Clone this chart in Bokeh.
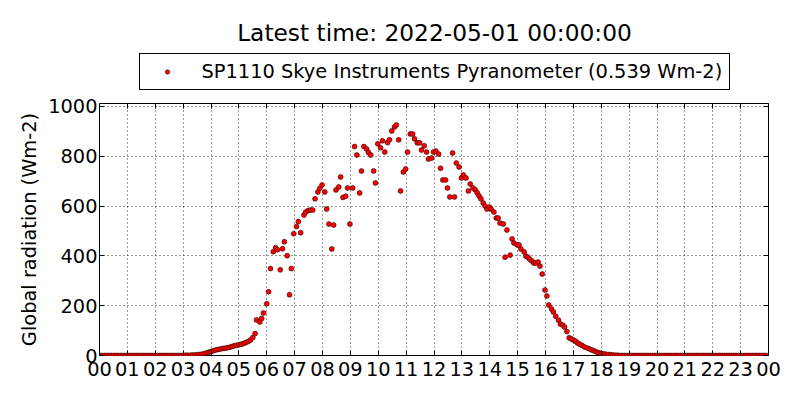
from bokeh.plotting import figure
from bokeh.layouts import column
from bokeh.models import (Range1d, FixedTicker, LinearAxis, Legend, Label,
                          LegendItem, ColumnDataSource)
from bokeh.embed import file_html
from bokeh.resources import INLINE

# ---------------- data ----------------
title_text = "Latest time: 2022-05-01 00:00:00"
series_label = "SP1110 Skye Instruments Pyranometer (0.539 Wm-2)"
y_label = "Global radiation (Wm-2)"
hour_labels = ["00", "01", "02", "03", "04", "05", "06", "07", "08", "09", "10", "11",
               "12", "13", "14", "15", "16", "17", "18", "19", "20", "21", "22", "23", "00"]
hour_ticks = [0, 1, 2, 3, 4, 5, 6, 7, 8, 9, 10, 11, 12,
              13, 14, 15, 16, 17, 18, 19, 20, 21, 22, 23, 24]
y_ticks = [0, 200, 400, 600, 800, 1000]

night_am_times = ("00:00 00:05 00:10 00:15 00:20 00:25 00:30 00:35 00:40 00:45 00:50 00:55 "
                  "01:00 01:05 01:10 01:15 01:20 01:25 01:30 01:35 01:40 01:45 01:50 01:55 "
                  "02:00 02:05 02:10 02:15 02:20 02:25 02:30 02:35 02:40 02:45 02:50 02:55").split()
night_am_values = [0, 0, 0, 0, 0, 0, 0, 0, 0, 0, 0, 0,
                   0, 0, 0, 0, 0, 0, 0, 0, 0, 0, 0, 0,
                   0, 0, 0, 0, 0, 0, 0, 0, 0, 0, 0, 0]

dawn_times = ("03:00 03:05 03:10 03:15 03:20 03:25 03:30 03:35 03:40 03:45 03:50 03:55 "
              "04:00 04:05 04:10 04:15 04:20 04:25 04:30 04:35 04:40 04:45 04:50 04:55 "
              "05:00 05:05 05:10 05:15 05:20 05:25 05:30 05:35").split()
dawn_values = [0, 1, 1, 1, 2, 2, 3, 4, 5, 7, 10, 13,
               16, 19, 22, 24, 26, 28, 29, 31, 33, 36, 39, 41,
               43, 45, 48, 52, 56, 62, 72, 88]

day_times = ("05:38 05:45 05:49 05:53 06:00 06:04 06:08 06:14 06:19 06:23 06:29 06:34 "
             "06:38 06:44 06:49 06:53 06:58 07:04 07:08 07:13 07:20 07:24 07:29 07:34 "
             "07:39 07:44 07:50 07:54 07:59 08:05 08:09 08:14 08:20 08:24 08:29 08:35 "
             "08:39 08:44 08:50 08:54 08:59 09:05 09:09 09:14 09:20 09:24 09:29 09:35 "
             "09:39 09:44 09:50 09:54 09:59 10:05 10:09 10:14 10:20 10:24 10:29 10:35 "
             "10:39 10:44 10:48 10:54 10:59 11:03 11:09 11:14 11:18 11:24 11:29 11:33 "
             "11:39 11:44 11:48 11:55 11:59 12:04 12:10 12:14 12:19 12:25 12:29 12:34 "
             "12:40 12:44 12:48 12:54 12:59 13:03 13:09 13:14 13:18 13:24 13:29 13:33 "
             "13:37 13:41 13:46 13:50 13:54 13:59 14:03 14:09 14:14 14:18 14:22 14:29 "
             "14:33 14:37 14:44 14:48 14:52 14:59 15:03 15:07 15:14 15:18 15:22 15:26 "
             "15:31 15:35 15:39 15:44 15:48 15:53 15:59 16:03 16:07 16:13 16:17 16:22 "
             "16:28 16:32 16:37 16:41 16:46 16:51 16:55").split()
day_values = [143, 135, 149, 171, 208, 256, 349, 417, 433, 425, 344, 429,
              457, 401, 244, 349, 489, 518, 538, 493, 564, 576, 582, 584,
              584, 629, 657, 671, 685, 657, 588, 528, 428, 524, 665, 677,
              717, 635, 640, 673, 528, 673, 839, 805, 653, 741, 839, 829,
              815, 805, 741, 693, 850, 834, 862, 817, 855, 866, 902, 918,
              926, 866, 661, 737, 749, 817, 890, 890, 870, 854, 854, 825,
              842, 817, 789, 793, 817, 821, 809, 752, 705, 705, 673, 637,
              813, 637, 773, 757, 713, 725, 713, 661, 689, 673, 665, 653,
              641, 629, 612, 600, 588, 596, 588, 576, 552, 552, 532, 528,
              395, 504, 403, 468, 452, 444, 444, 428, 416, 399, 395, 387,
              379, 371, 371, 375, 359, 327, 263, 239, 203, 187, 175, 158,
              142, 126, 122, 114, 96, 71, 67]

dusk_times = ("17:00 17:05 17:09 17:14 17:19 17:24 17:30 17:35 17:40 17:45 17:50 17:55 "
              "18:00 18:05 18:10 18:15 18:20 18:25 18:30 18:35").split()
dusk_values = [62, 57, 50, 45, 40, 34, 30, 26, 22, 18, 14, 11,
               8, 7, 5, 4, 3, 2, 1, 1]

night_pm_times = ("18:40 18:45 18:50 18:55 "
                  "19:00 19:05 19:10 19:15 19:20 19:25 19:30 19:35 19:40 19:45 19:50 19:55 "
                  "20:00 20:05 20:10 20:15 20:20 20:25 20:30 20:35 20:40 20:45 20:50 20:55 "
                  "21:00 21:05 21:10 21:15 21:20 21:25 21:30 21:35 21:40 21:45 21:50 21:55 "
                  "22:00 22:05 22:10 22:15 22:20 22:25 22:30 22:35 22:40 22:45 22:50 22:55 "
                  "23:00 23:05 23:10 23:15 23:20 23:25 23:30 23:35 23:40 23:45 23:50 23:55").split()
night_pm_values = [0, 0, 0, 0,
                   0, 0, 0, 0, 0, 0, 0, 0, 0, 0, 0, 0,
                   0, 0, 0, 0, 0, 0, 0, 0, 0, 0, 0, 0,
                   0, 0, 0, 0, 0, 0, 0, 0, 0, 0, 0, 0,
                   0, 0, 0, 0, 0, 0, 0, 0, 0, 0, 0, 0,
                   0, 0, 0, 0, 0, 0, 0, 0, 0, 0, 0, 0]

# ---------------- build ----------------
FONT = "DejaVu Sans"
W = 784
HEAD_H = 92
MAIN_H = 384 - HEAD_H


def to_hours(t):
    hh, mm = t.split(":")
    return int(hh) + int(mm) / 60.0


all_times = night_am_times + dawn_times + day_times + dusk_times + night_pm_times
all_values = night_am_values + dawn_values + day_values + dusk_values + night_pm_values
src = ColumnDataSource(dict(x=[to_hours(t) for t in all_times], y=all_values))

marker_style = dict(size=5, fill_color="red", line_color="black", line_width=0.5)

# ---- header (title + legend); its frame is aligned with the main frame ----
head = figure(width=W, height=HEAD_H, output_backend="svg", toolbar_location=None,
              x_range=Range1d(0, 1), y_range=Range1d(0, 1),
              x_axis_type=None, y_axis_type=None, min_border=0)
head.grid.visible = False
head.outline_line_color = None
head.background_fill_color = "white"
head.border_fill_color = "white"

# legend key renderer: a single sample kept outside the header's visible range,
# only so the legend can draw its marker
key_src = ColumnDataSource(dict(x=[5], y=[5]))
key = head.scatter("x", "y", source=key_src, **marker_style)
legend = Legend(items=[LegendItem(label=series_label, renderers=[key])],
                location=(39.5, 2.5), orientation="vertical",
                border_line_color="black", border_line_width=1, border_line_alpha=1,
                background_fill_color="white", background_fill_alpha=1,
                padding=6, spacing=0, margin=0,
                glyph_width=42, glyph_height=11, label_standoff=14,
                label_height=22, label_width=521,
                label_text_font=FONT, label_text_font_size="19.4px",
                label_text_color="black", label_text_baseline="middle")
head.add_layout(legend)

title = Label(x=335, y=HEAD_H - 41.5 + 10, x_units="screen", y_units="screen",
              text=title_text, text_align="center", text_baseline="alphabetic",
              text_font=FONT, text_font_size="23.3px", text_color="black")
head.add_layout(title)

# ---- main plot ----
p = figure(width=W, height=MAIN_H, output_backend="svg", toolbar_location=None,
           x_range=Range1d(0, 24), y_range=Range1d(0, 1012),
           min_border_left=99, min_border_right=16, min_border_top=103 - HEAD_H,
           min_border_bottom=29)
p.background_fill_color = "white"
p.border_fill_color = "white"
p.outline_line_color = "black"
p.outline_line_width = 1
p.outline_line_alpha = 1

xt = FixedTicker(ticks=hour_ticks)
yt = FixedTicker(ticks=y_ticks)

p.xaxis.ticker = xt
p.xaxis.major_label_overrides = {t: lab for t, lab in zip(hour_ticks, hour_labels)}
p.yaxis.ticker = yt
p.yaxis.axis_label = y_label

for ax in (p.xaxis + p.yaxis):
    ax.axis_line_color = None
    ax.major_tick_in = 5
    ax.major_tick_out = 0
    ax.major_tick_line_color = "black"
    ax.minor_tick_line_color = None
    ax.major_label_text_font = FONT
    ax.major_label_text_font_size = "19.4px"
    ax.major_label_text_color = "black"
    ax.axis_label_text_font = FONT
    ax.axis_label_text_font_size = "19.4px"
    ax.axis_label_text_font_style = "normal"
    ax.axis_label_text_color = "black"
p.xaxis.major_label_standoff = 6
p.yaxis.major_label_standoff = 2
p.yaxis.axis_label_standoff = 4

# inward ticks on top and right (no labels)
top_ax = LinearAxis(ticker=xt, axis_line_color=None, major_tick_in=5, major_tick_out=0,
                    major_tick_line_color="black", minor_tick_line_color=None,
                    major_label_text_color=None, major_label_text_font_size="1px",
                    major_label_standoff=0)
right_ax = LinearAxis(ticker=yt, axis_line_color=None, major_tick_in=5, major_tick_out=0,
                      major_tick_line_color="black", minor_tick_line_color=None,
                      major_label_text_color=None, major_label_text_font_size="1px",
                      major_label_standoff=0)
p.add_layout(top_ax, "above")
p.add_layout(right_ax, "right")

for g in (p.xgrid, p.ygrid):
    g.grid_line_color = "black"
    g.grid_line_dash = "1 3"
    g.grid_line_width = 1
    g.grid_line_alpha = 0.8
p.xgrid.ticker = xt
p.ygrid.ticker = yt

p.scatter("x", "y", source=src, **marker_style)

layout = column(head, p, spacing=0)
open("out.html", "w").write(file_html(layout, INLINE))
